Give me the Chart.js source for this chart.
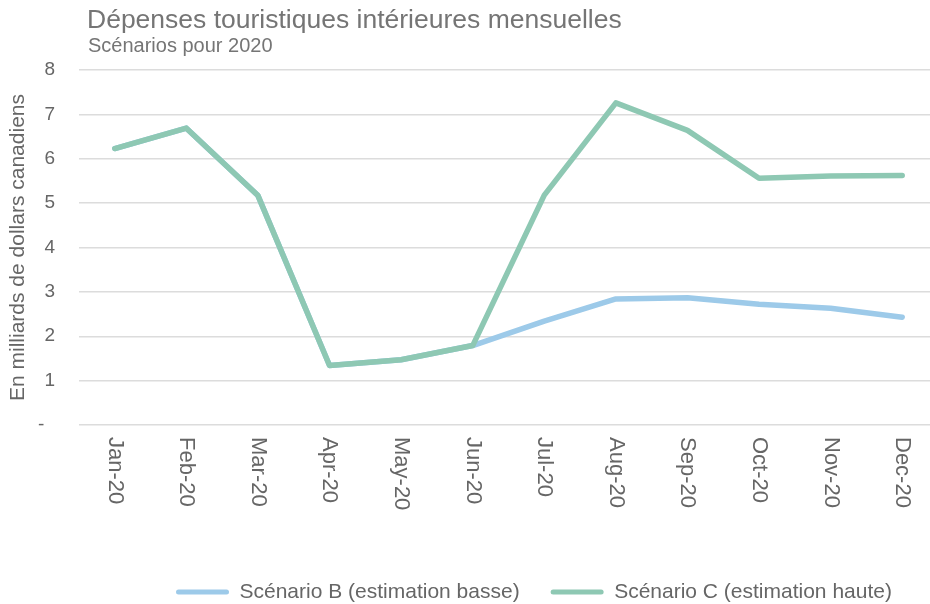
<!DOCTYPE html>
<html>
<head>
<meta charset="utf-8">
<script src="https://cdn.jsdelivr.net/npm/chart.js@4.4.1/dist/chart.umd.min.js"></script>
<style>
  html, body { margin: 0; padding: 0; background: #ffffff; overflow: hidden; }
  #wrap { position: relative; width: 945px; height: 604px; }
</style>
</head>
<body>
<div id="wrap"><canvas id="chart"></canvas></div>
<script>
const chartTitle = 'Dépenses touristiques intérieures mensuelles';
const chartSubtitle = 'Scénarios pour 2020';
const yAxisTitle = 'En milliards de dollars canadiens';
const months = ['Jan-20', 'Feb-20', 'Mar-20', 'Apr-20', 'May-20', 'Jun-20',
                'Jul-20', 'Aug-20', 'Sep-20', 'Oct-20', 'Nov-20', 'Dec-20'];
const scenarioBLabel = 'Scénario B (estimation basse)';
const scenarioCLabel = 'Scénario C (estimation haute)';
const scenarioB = [6.23, 6.69, 5.17, 1.34, 1.47, 1.79, 2.34, 2.84, 2.87, 2.72, 2.63, 2.43];
const scenarioC = [6.23, 6.69, 5.17, 1.34, 1.47, 1.79, 5.18, 7.26, 6.64, 5.56, 5.61, 5.62];
const yMin = 0, yMax = 8, yStep = 1;
const zeroTickLabel = '-';

const FONT = '"Liberation Sans", Arial, Helvetica, sans-serif';
const TEXT_GRAY = '#666666';
const TITLE_GRAY = '#757575';
const COLOR_B = '#9dcae9';
const COLOR_C = '#8ec8b3';

const overlayText = {
  id: 'overlayText',
  afterUpdate(chart) {
    const lg = chart.legend;
    if (!lg) return;
    const pad = lg.options.labels.padding;
    const itemH = lg.options.labels.font.size;
    const dx = 176 - (lg.left + pad);
    lg.left += dx; lg.right += dx;
    const dy = 592 - (lg.top + pad + itemH / 2);
    lg.top += dy; lg.bottom += dy;
  },
  afterDraw(chart) {
    const ctx = chart.ctx;
    ctx.save();
    ctx.fillStyle = TITLE_GRAY;
    ctx.textAlign = 'left';
    ctx.textBaseline = 'alphabetic';
    ctx.font = '26.5px ' + FONT;
    ctx.fillText(chartTitle, 87, 28);
    ctx.font = '20px ' + FONT;
    ctx.fillText(chartSubtitle, 88, 52);
    // rotated category labels, reading top to bottom
    const xs = chart.scales.x;
    ctx.fillStyle = TEXT_GRAY;
    ctx.font = '22px ' + FONT;
    ctx.textBaseline = 'middle';
    xs.ticks.forEach((t, i) => {
      const x = xs.getPixelForTick(i);
      ctx.save();
      ctx.translate(x, chart.chartArea.bottom + 12);
      ctx.rotate(Math.PI / 2);
      ctx.fillText(months[i], 0, 0);
      ctx.restore();
    });
    ctx.restore();
  }
};

new Chart(document.getElementById('chart'), {
  type: 'line',
  data: {
    labels: months,
    datasets: [
      {
        label: scenarioBLabel,
        data: scenarioB,
        borderColor: COLOR_B,
        backgroundColor: COLOR_B,
        borderWidth: 5.5,
        pointRadius: 0,
        tension: 0,
        borderCapStyle: 'round',
        borderJoinStyle: 'round',
        order: 1
      },
      {
        label: scenarioCLabel,
        data: scenarioC,
        borderColor: COLOR_C,
        backgroundColor: COLOR_C,
        borderWidth: 5.5,
        pointRadius: 0,
        tension: 0,
        borderCapStyle: 'round',
        borderJoinStyle: 'round',
        order: 0
      }
    ]
  },
  options: {
    responsive: true,
    maintainAspectRatio: false,
    animation: false,
    devicePixelRatio: 1,
    layout: { padding: { top: 70, right: 7, bottom: 0, left: 0 } },
    plugins: {
      title: { display: false },
      tooltip: { enabled: false },
      legend: {
        display: true,
        position: 'bottom',
        align: 'start',
        labels: {
          boxWidth: 53,
          boxHeight: 5,
          padding: 31,
          color: TEXT_GRAY,
          useBorderRadius: true,
          borderRadius: 2.5,
          font: { family: FONT, size: 21 },
          sort: (a, b) => a.datasetIndex - b.datasetIndex,
          generateLabels(chart) {
            const items = Chart.defaults.plugins.legend.labels.generateLabels(chart);
            items.forEach(it => {
              const ds = chart.data.datasets[it.datasetIndex];
              it.fillStyle = ds.borderColor;
              it.strokeStyle = ds.borderColor;
              it.lineWidth = 0;
              it.borderRadius = 2.5;
            });
            return items;
          }
        }
      }
    },
    scales: {
      x: {
        type: 'category',
        offset: true,
        grid: { display: false },
        border: { display: false },
        ticks: { display: false },
        afterFit(scale) { scale.height = 117; }
      },
      y: {
        min: yMin,
        max: yMax,
        grid: { color: '#dcdcdc', lineWidth: 1.5, drawTicks: false },
        border: { display: false },
        ticks: {
          stepSize: yStep,
          padding: 24,
          color: TEXT_GRAY,
          font: { family: FONT, size: 19 },
          callback: (v) => (v === 0 ? zeroTickLabel + '  ' : String(v))
        },
        title: {
          display: true,
          text: yAxisTitle,
          color: TEXT_GRAY,
          font: { family: FONT, size: 21 },
          padding: { top: 6, bottom: 0 }
        },
        afterFit(scale) { scale.width = 79; }
      }
    }
  },
  plugins: [overlayText]
});
</script>
</body>
</html>
